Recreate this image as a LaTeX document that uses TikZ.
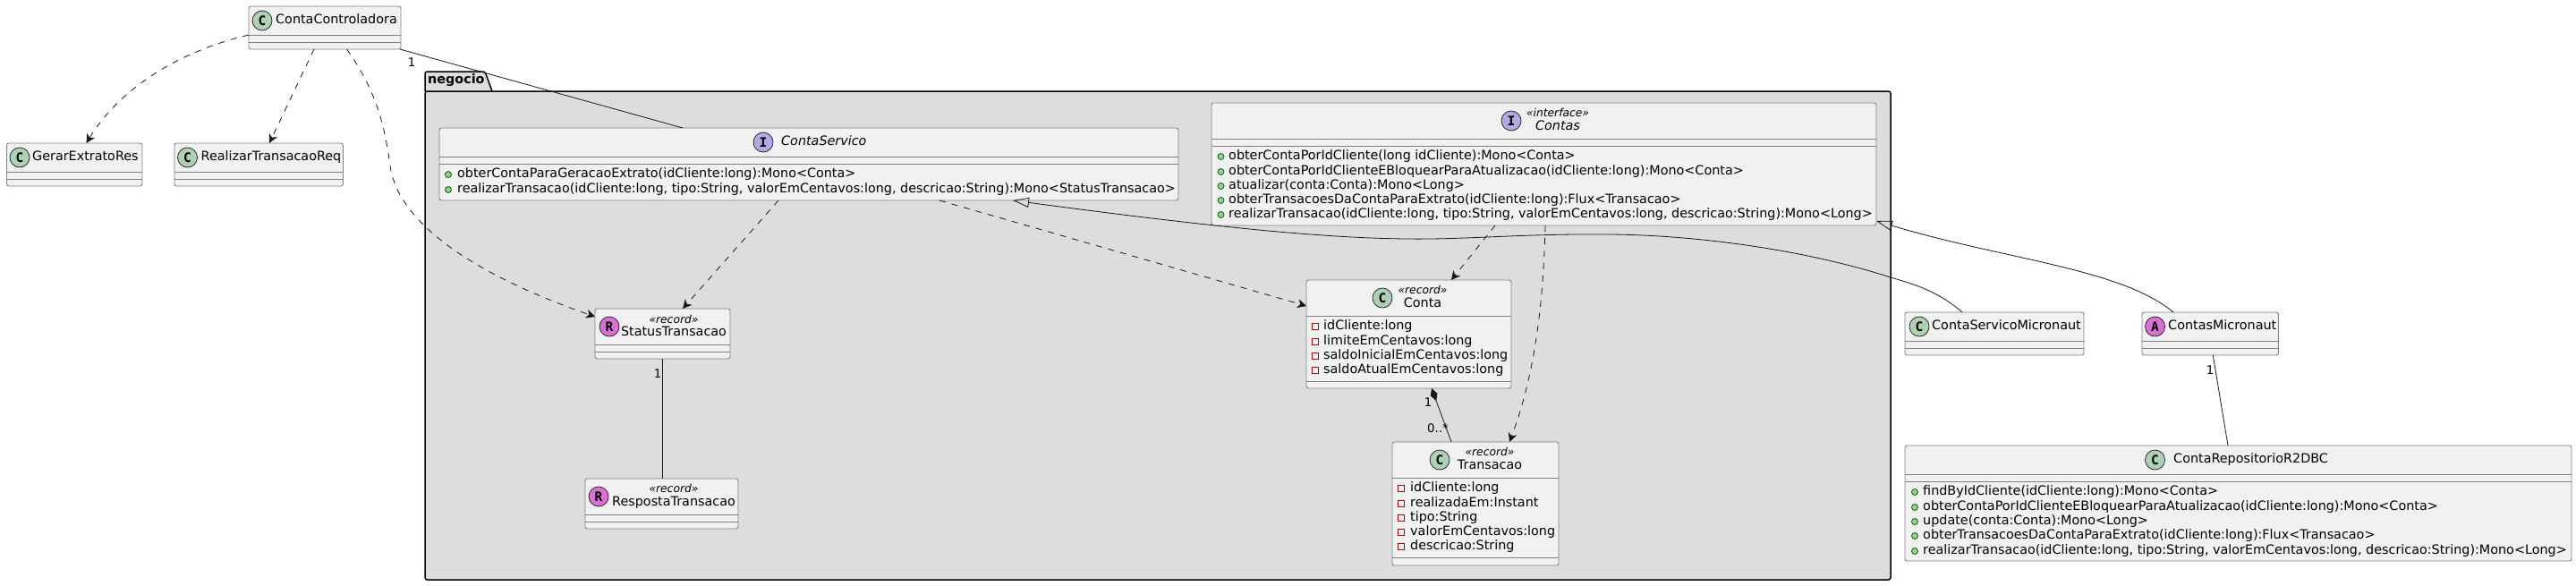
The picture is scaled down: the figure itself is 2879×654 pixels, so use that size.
\documentclass[tikz,border=0pt]{standalone}
\usepackage{fontspec}
\setmainfont{DejaVu Sans}
\setmonofont{DejaVu Sans Mono}
\usetikzlibrary{arrows.meta}
\definecolor{boxfill}{HTML}{F1F1F1}
\definecolor{boxline}{HTML}{808080}
\definecolor{pkgfill}{HTML}{DDDDDD}
\definecolor{edgeline}{HTML}{181818}
\definecolor{classgreen}{HTML}{ADD1B2}
\definecolor{ifacepurple}{HTML}{B4A7E5}
\definecolor{recordpink}{HTML}{DA70D6}
\tikzset{>={Stealth[length=10pt,width=10pt,inset=3pt]}}
\tikzset{
  classbox/.style={draw=boxline,fill=boxfill,line width=0.9pt,rounded corners=2.5pt,outer sep=0pt,inner sep=0pt},
  sepline/.style={draw=boxline,line width=0.9pt},
  badge/.style={circle,draw=edgeline,line width=0.7pt,minimum size=22pt,inner sep=0pt,font=\fontsize{14.5}{14.5}\selectfont\ttfamily\bfseries},
  classname/.style={inner sep=0pt,font=\fontsize{14.35}{16}\selectfont,text height=10.5pt,text depth=3pt},
  stereo/.style={inner sep=0pt,font=\fontsize{12.3}{14}\selectfont\itshape,text height=9pt,text depth=2.5pt},
  member/.style={inner sep=0pt,anchor=west,font=\fontsize{14.35}{16}\selectfont,text height=10.5pt,text depth=3pt},
  plusicon/.style={circle,draw=green!40!black,fill=green!40!gray!60,line width=0.8pt,minimum size=7pt,inner sep=0pt},
  minusicon/.style={rectangle,draw=red!75!black,line width=0.9pt,minimum size=7pt,inner sep=0pt},
  dep/.style={->,draw=edgeline,line width=0.8pt,dash pattern=on 7pt off 7pt},
  assoc/.style={draw=edgeline,line width=0.8pt},
  inherit/.style={draw=edgeline,line width=0.8pt,-{Triangle[open,length=18pt,width=11pt]}},
  multlabel/.style={inner sep=0pt,font=\fontsize{13.3}{13}\selectfont},
}

\begin{document}
\begin{tikzpicture}[x=1pt,y=-1pt]
        \useasboundingbox (0,0) rectangle (2879,654);

        % package
        \draw[fill=pkgfill,line width=1.5pt,rounded corners=2.5pt] (475,102) -- (475,80) -- (542,80) -- (550,102);
        \draw[fill=pkgfill,line width=1.5pt,rounded corners=2.5pt] (475,102) rectangle (2113,648);
        \node[inner sep=0pt,anchor=west,font=\fontsize{14.35}{16}\selectfont\bfseries,text height=10.5pt,text depth=3pt] (negocio) at (478,90) {negocio};

        % class boxes
        \node[classbox,minimum width=170pt,minimum height=48pt] (controladora) at (363,31) {};
        \node[classbox,minimum width=151.5pt,minimum height=48pt] (gerar) at (83.25,184) {};
        \node[classbox,minimum width=188.5pt,minimum height=48pt] (realizar) at (289.25,184) {};
        \node[classbox,minimum width=826pt,minimum height=81pt] (servico) at (904,183.5) {};
        \node[classbox,minimum width=743pt,minimum height=137pt] (contas) at (1725.5,183.5) {};
        \node[classbox,minimum width=151pt,minimum height=56pt] (status) at (740.5,373) {};
        \node[classbox,minimum width=171pt,minimum height=56pt] (resposta) at (739.5,563) {};
        \node[classbox,minimum width=229pt,minimum height=121pt] (conta) at (1574.5,373.5) {};
        \node[classbox,minimum width=186pt,minimum height=138pt] (transacao) at (1649,563) {};
        \node[classbox,minimum width=200pt,minimum height=48pt] (servmicro) at (2229,373) {};
        \node[classbox,minimum width=152.5pt,minimum height=48pt] (contasmicro) at (2470.25,373) {};
        \node[classbox,minimum width=745pt,minimum height=129pt] (repo) at (2501.5,562.5) {};

        \foreach \boxname/\sepy in {controladora/39,controladora/47,gerar/192,gerar/200,realizar/192,realizar/200,
            servico/175,servico/183,contas/155,contas/163,status/385,status/393,resposta/575,resposta/583,
            conta/353,conta/426,transacao/534,transacao/623,servmicro/381,servmicro/389,contasmicro/381,contasmicro/389,
            repo/530,repo/538}
          \draw[sepline] (\boxname.west |- 0,\sepy) -- (\boxname.east |- 0,\sepy);

        % badges and names
        \node[badge,fill=classgreen] (bctrl) at (293,23) {C};
        \node[classname,anchor=west] (nctrl) at (308,23) {ContaControladora};
        \node[badge,fill=classgreen] (bgerar) at (22,176) {C};
        \node[classname,anchor=west] (ngerar) at (36,176) {GerarExtratoRes};
        \node[badge,fill=classgreen] (breal) at (209.5,176) {C};
        \node[classname,anchor=west] (nreal) at (224.5,176) {RealizarTransacaoReq};
        \node[badge,fill=ifacepurple] (bserv) at (853,159) {I};
        \node[classname,anchor=west,font=\fontsize{14.35}{16}\selectfont\itshape] (nserv) at (873,159) {ContaServico};
        \node[badge,fill=ifacepurple] (bcontas) at (1689,135) {I};
        \node[stereo] (scontas) at (1741,127) {«interface»};
        \node[classname,font=\fontsize{14.35}{16}\selectfont\itshape] (ncontas) at (1741,142) {Contas};
        \node[badge,fill=classgreen] (bconta) at (1545,333) {C};
        \node[stereo] (sconta) at (1590,325) {«record»};
        \node[classname] (nconta) at (1590,340) {Conta};
        \node[badge,fill=classgreen] (btrans) at (1609,514) {C};
        \node[stereo] (strans) at (1665,506) {«record»};
        \node[classname] (ntrans) at (1665,521) {Transacao};
        \node[badge,fill=recordpink] (bstatus) at (681,365) {R};
        \node[stereo] (sstatus) at (753,358) {«record»};
        \node[classname] (nstatus) at (753,372) {StatusTransacao};
        \node[badge,fill=recordpink] (bresp) at (669,555) {R};
        \node[stereo] (sresp) at (753,547) {«record»};
        \node[classname] (nresp) at (753,562) {RespostaTransacao};
        \node[badge,fill=classgreen] (bsm) at (2145,365) {C};
        \node[classname,anchor=west] (nsm) at (2159,365) {ContaServicoMicronaut};
        \node[badge,fill=recordpink] (bcm) at (2408.5,365) {A};
        \node[classname,anchor=west] (ncm) at (2423,365) {ContasMicronaut};
        \node[badge,fill=classgreen] (brepo) at (2408.5,514) {C};
        \node[classname,anchor=west] (nrepo) at (2429,514) {ContaRepositorioR2DBC};

        % members
        \foreach \memy/\memtext [count=\memi] in {195/{obterContaParaGeracaoExtrato(idCliente:long):Mono<Conta>},
            212/{realizarTransacao(idCliente:long, tipo:String, valorEmCentavos:long, descricao:String):Mono<StatusTransacao>}}{
          \node[plusicon] (iserv\memi) at (501,\memy) {};
          \node[member] (mserv\memi) at (511,\memy) {\memtext};
        }
        \foreach \memy/\memtext [count=\memi] in {175/{obterContaPorIdCliente(long idCliente):Mono<Conta>},
            192/{obterContaPorIdClienteEBloquearParaAtualizacao(idCliente:long):Mono<Conta>},
            208/{atualizar(conta:Conta):Mono<Long>},
            224/{obterTransacoesDaContaParaExtrato(idCliente:long):Flux<Transacao>},
            240/{realizarTransacao(idCliente:long, tipo:String, valorEmCentavos:long, descricao:String):Mono<Long>}}{
          \node[plusicon] (icontas\memi) at (1364.5,\memy) {};
          \node[member] (mcontas\memi) at (1373,\memy) {\memtext};
        }
        \foreach \memy/\memtext [count=\memi] in {365/{idCliente:long},382/{limiteEmCentavos:long},
            398/{saldoInicialEmCentavos:long},414/{saldoAtualEmCentavos:long}}{
          \node[minusicon] (iconta\memi) at (1470,\memy) {};
          \node[member] (mconta\memi) at (1479,\memy) {\memtext};
        }
        \foreach \memy/\memtext [count=\memi] in {546/{idCliente:long},563/{realizadaEm:Instant},579/{tipo:String},
            595/{valorEmCentavos:long},611/{descricao:String}}{
          \node[minusicon] (itrans\memi) at (1566,\memy) {};
          \node[member] (mtrans\memi) at (1576,\memy) {\memtext};
        }
        \foreach \memy/\memtext [count=\memi] in {550/{findByIdCliente(idCliente:long):Mono<Conta>},
            567/{obterContaPorIdClienteEBloquearParaAtualizacao(idCliente:long):Mono<Conta>},
            583/{update(conta:Conta):Mono<Long>},
            599/{obterTransacoesDaContaParaExtrato(idCliente:long):Flux<Transacao>},
            616/{realizarTransacao(idCliente:long, tipo:String, valorEmCentavos:long, descricao:String):Mono<Long>}}{
          \node[plusicon] (irepo\memi) at (2140,\memy) {};
          \node[member] (mrepo\memi) at (2149,\memy) {\memtext};
        }

        % connectors
        \draw[dep] ([yshift=-8pt]controladora.west) .. controls (190,60) and (130,105) .. ([xshift=13.25pt]gerar.north);
        \draw[dep] ([xshift=-12pt]controladora.south) -- ([xshift=11.75pt]realizar.north);
        \draw[dep] ([xshift=24.5pt]controladora.south) .. controls (420,100) and (430,140) .. (436,185)
            .. controls (443,240) and (510,300) .. ([yshift=19pt]status.west);
        \draw[assoc] ([xshift=84pt]controladora.south) -- ([xshift=-141pt]servico.north);
        \draw[dep] ([xshift=-34pt]servico.south) -- ([xshift=22.5pt]status.north);
        \draw[dep] ([xshift=146pt]servico.south) -- ([yshift=31.5pt]conta.west);
        \draw[dep] ([xshift=-54.5pt]contas.south) -- ([xshift=47.5pt]conta.north);
        \draw[dep] ([xshift=1.5pt]contas.south) .. controls (1725,340) and (1715,420) .. ([xshift=38pt]transacao.north);
        \draw[inherit] ([xshift=-36pt]servmicro.north) .. controls (2165,325) and (2140,318) .. (2113,310)
            .. controls (2020,280) and (1900,263) .. (1800,262) .. controls (1700,261) and (1640,268) .. (1571,267)
            .. controls (1500,266) and (1400,260) .. ([xshift=228pt]servico.south);
        \draw[inherit] ([xshift=-41.25pt]contasmicro.north) .. controls (2370,300) and (2240,290) .. ([yshift=-63.5pt]contas.east);
        \draw[assoc] ([xshift=3pt]contasmicro.south) -- ([xshift=-11.5pt]repo.north);
        \draw[assoc] (status.south) -- (resposta.north -| status.south);
        \draw[assoc,{Diamond[length=15pt,width=8pt]}-] ([xshift=25.5pt]conta.south) -- ([xshift=-27pt]transacao.north);

        % multiplicities
        \node[multlabel] (mult1) at (460,70) {1};
        \node[multlabel] (mult2) at (735,418) {1};
        \node[multlabel] (mult3) at (1596,450) {1};
        \node[multlabel] (mult4) at (1607,479) {0..*};
        \node[multlabel] (mult5) at (2470,414) {1};
\end{tikzpicture}
\end{document}
